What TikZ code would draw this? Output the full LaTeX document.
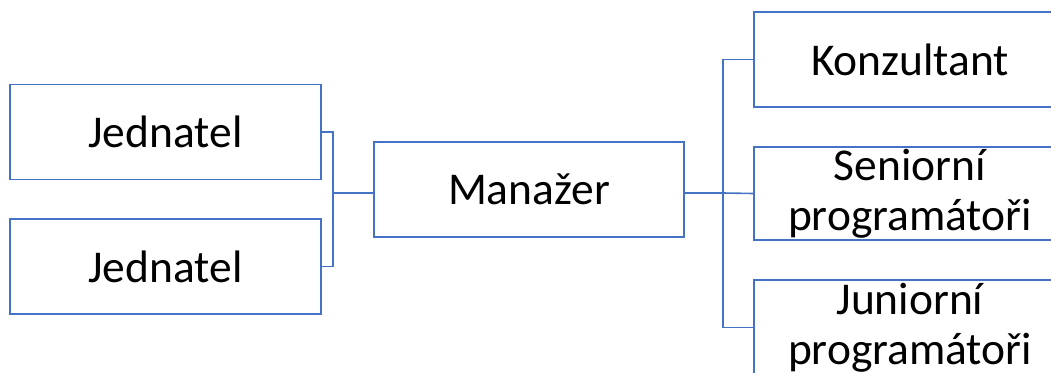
\documentclass[tikz,border=0pt]{standalone}
\usepackage{fontspec}
\setmainfont{Carlito}
\definecolor{obl}{HTML}{4472C4}
\begin{document}
\begin{tikzpicture}[x=1pt,y=-1pt,
  box/.style={draw=obl,line width=1.6pt,rectangle,inner sep=0pt,minimum width=311pt,minimum height=95pt,
    font=\fontsize{45.5}{50}\selectfont,align=center,text=black},
  conn/.style={draw=obl,line width=1.6pt}]
\clip (0,0) rectangle (1051,372);
\node[box] (j1) at (165.5,132) {Jednatel};
\node[box] (j2) at (165.5,266.5) {Jednatel};
\node[box,minimum width=310pt] (m) at (529,189.5) {Manažer};
\node[box,minimum width=312pt] (k) at (910,59.5) {Konzultant};
\node[box,minimum width=312pt,minimum height=93pt] (s) at (910,193.5) {Seniorní\\programátoři};
\node[box,minimum width=312pt] (jr) at (910,327.5) {Juniorní\\programátoři};
\coordinate (lb) at (333,193);
\coordinate (rb) at (723,193);
\draw[conn] (j1.east) -| (lb) -- (m.west |- lb);
\draw[conn] (j2.east) -| (lb);
\draw[conn] (m.east |- rb) -- (rb);
\draw[conn] (k.west) -| (rb) |- (jr.west);
\draw[conn] (rb) -- (s.west);
\end{tikzpicture}
\end{document}
